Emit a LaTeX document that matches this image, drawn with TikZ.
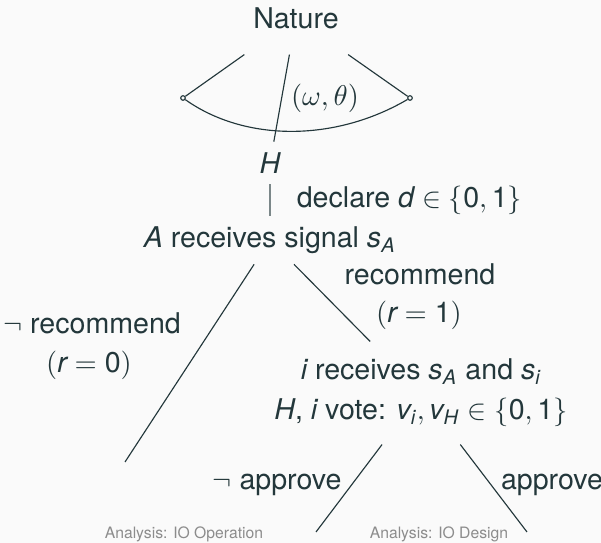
\documentclass[tikz,border=0pt]{standalone}
\usepackage{amsmath,amssymb}
\usepackage{fontspec}
\setmainfont{TeX Gyre Heros}
\usetikzlibrary{positioning}
\definecolor{dkteal}{HTML}{23373B}
\definecolor{bgpage}{HTML}{FAFAFA}
\definecolor{notegray}{HTML}{8C8C8C}
\newcommand{\mv}[1]{\mathit{#1}}
\newcommand{\mn}[1]{\mathrm{#1}}
\tikzset{
  lbl/.style={text=dkteal, inner sep=3.6pt, font=\normalsize},
  chance/.style={lbl, minimum width=36pt, minimum height=25.2pt},
  mover/.style={lbl, align=center, minimum height=35.7pt},
  cont/.style={circle, draw=dkteal, fill=bgpage, inner sep=0pt, minimum size=1.6pt},
  br/.style={draw=dkteal, line width=0.4pt},
  note/.style={text=notegray, inner sep=1pt, font=\fontsize{5.5}{6.6}\selectfont},
}

\begin{document}
\begin{tikzpicture}[x=0.35pt,y=-0.35pt]
\useasboundingbox[fill=bgpage] (0,0) rectangle (601,543);
% nature draws the state and the types
\node[chance] (nature) at (296,18) {Nature};
\node[cont] (wl) at (183,98) {};
\node[cont] (wr) at (410,98) {};
\node[lbl] (H) at (270,163) {$\mv{H}$};
\draw[br] (nature) -- (wl);
\draw[br] (nature) -- (wr);
\draw[br] (nature) -- (H);
\draw[br] (wl) .. controls (245,142) and (335,142) .. (wr);
\node[lbl] (types) at (325,98) {$(\omega,\theta)$};
% H declares, A is informed
\node[lbl] (sigA) at (270,240) {$\mv{A}$ receives signal $\mv{s}_\mv{A}$};
\draw[br, draw=dkteal!60] (H) -- (sigA);
\node[lbl, anchor=west] (declare) at (286,200) {declare $\mv{d} \in \{\mn{0},\mn{1}\}$};
% A recommends or not
\node[mover] (voters) at (421,393) {$\mv{i}$ receives $\mv{s}_\mv{A}$ and $\mv{s}_\mv{i}$\\[2pt]
  $\mv{H}$, $\mv{i}$ vote: $\mv{v}_\mv{i}, \mv{v}_\mv{H} \in \{\mn{0},\mn{1}\}$};
\coordinate (norec) at (125,462);
\draw[br] (sigA) -- (norec);
\draw[br] (sigA) -- (voters);
\node[lbl] (norecA) at (92,323) {$\neg$ recommend};
\node[lbl] (norecB) at (89,365) {$(\mv{r} = \mn{0})$};
\node[lbl] (recA) at (420,274) {recommend};
\node[lbl] (recB) at (419,315) {$(\mv{r} = \mn{1})$};
% vote
\coordinate (rej) at (316,532);
\coordinate (acc) at (527,532);
\draw[br] (voters) -- (rej);
\draw[br] (voters) -- (acc);
\node[lbl] (rejl) at (277,485) {$\neg$ approve};
\node[lbl] (accl) at (552,485) {approve};
\node[note] (ioop) at (184,534) {Analysis: IO Operation};
\node[note] (iodes) at (439,534) {Analysis: IO Design};
\end{tikzpicture}
\end{document}
